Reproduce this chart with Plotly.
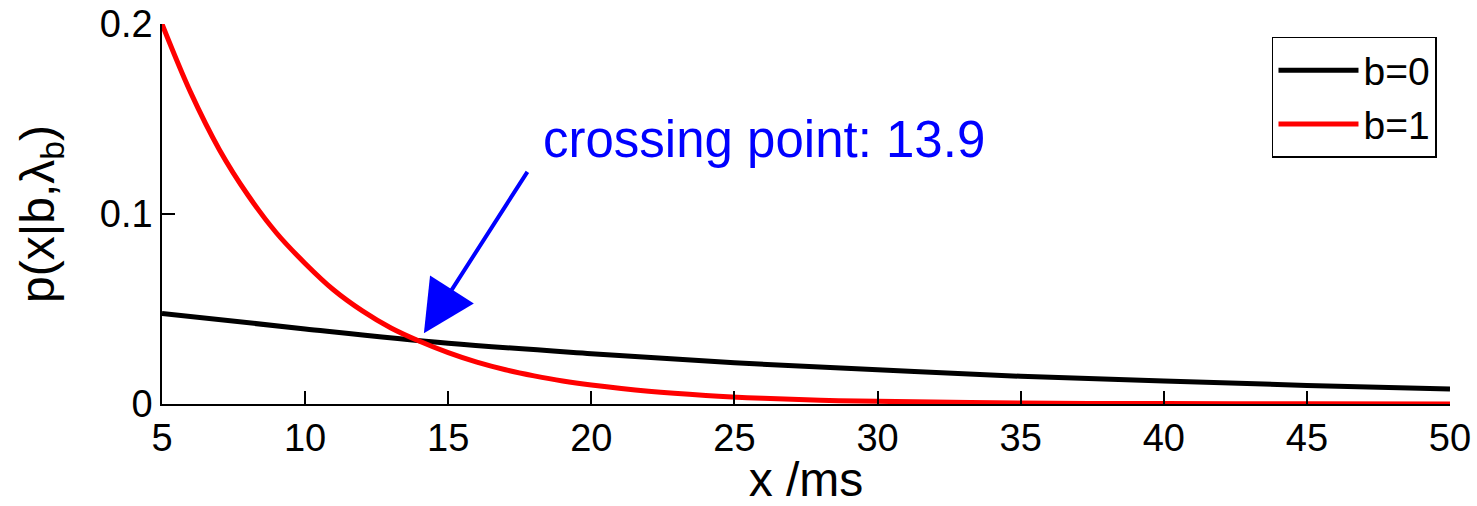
import plotly.graph_objects as go

# Density of the inter-event interval x for the two states b
x_b0 = [5, 10, 15, 20, 25, 30, 35, 40, 45, 50]
p_b0 = [0.0477, 0.0395, 0.0320, 0.0265, 0.0217, 0.0180, 0.0146, 0.0121, 0.0098, 0.0079]

x_b1 = [5, 6, 7, 8, 9, 10, 11, 12, 13, 14, 15, 16, 17, 18, 19, 20,
        22, 24, 26, 28, 30, 35, 40, 45, 50]
p_b1 = [0.200, 0.164, 0.134, 0.110, 0.090, 0.074, 0.060, 0.049, 0.040, 0.033, 0.027,
        0.022, 0.018, 0.0148, 0.0121, 0.0100, 0.0067, 0.0045, 0.0030, 0.0020,
        0.0014, 0.0005, 0.0002, 0.0001, 0.0000]

x_ticks = [5, 10, 15, 20, 25, 30, 35, 40, 45, 50]
y_ticks = [0, 0.1, 0.2]
y_tick_text = ["0", "0.1", "0.2"]

crossing_x = 13.9
crossing_label = "crossing point: 13.9"

FONT = "Liberation Sans"

fig = go.Figure()
fig.add_trace(go.Scatter(x=x_b0, y=p_b0, mode="lines", name="b=0",
                         line=dict(color="#000000", width=5, shape="spline")))
fig.add_trace(go.Scatter(x=x_b1, y=p_b1, mode="lines", name="b=1",
                         line=dict(color="#ff0000", width=5, shape="spline")))

# Label and arrow pointing at the crossing of the two densities
fig.add_annotation(x=18.25, y=0.139, xref="x", yref="y", text=crossing_label,
                   showarrow=False, xanchor="left", yanchor="middle",
                   font=dict(family=FONT, size=51, color="#0000ff"))
fig.add_annotation(x=14.15, y=0.0372, ax=17.8, ay=0.123, xref="x", yref="y",
                   axref="x", ayref="y", text="", showarrow=True,
                   arrowhead=2, arrowsize=2.6, arrowwidth=4, arrowcolor="#0000ff",
                   standoff=0, startstandoff=0)

fig.update_layout(
    width=1477, height=506,
    margin=dict(l=162, r=27, t=24, b=102, autoexpand=False),
    paper_bgcolor="white", plot_bgcolor="white",
    font=dict(family=FONT, color="black"),
    showlegend=True,
    legend=dict(x=0.9899, y=0.966, xanchor="right", yanchor="top",
                bgcolor="white", bordercolor="black", borderwidth=1.5,
                font=dict(family=FONT, size=39), itemwidth=80,
                tracegroupgap=0),
)

fig.update_xaxes(
    range=[5, 50], tickvals=x_ticks, ticks="inside", ticklen=13, tickwidth=1.5,
    tickcolor="black", showline=True, linecolor="black", linewidth=1.5,
    showgrid=False, zeroline=False, mirror=False, automargin=False,
    tickfont=dict(family=FONT, size=38),
    title=dict(text="x /ms", font=dict(family=FONT, size=48), standoff=6),
)
fig.update_yaxes(
    range=[0, 0.2], tickvals=y_ticks, ticktext=y_tick_text, ticks="inside",
    ticklen=13, tickwidth=1.5, tickcolor="black", showline=True,
    linecolor="black", linewidth=1.5, showgrid=False, zeroline=False,
    mirror=False, automargin=False, tickfont=dict(family=FONT, size=38),
    title=dict(text="p(x|b,λ<sub>b</sub>)", font=dict(family=FONT, size=48),
               standoff=30),
)

fig.write_html("out.html")
